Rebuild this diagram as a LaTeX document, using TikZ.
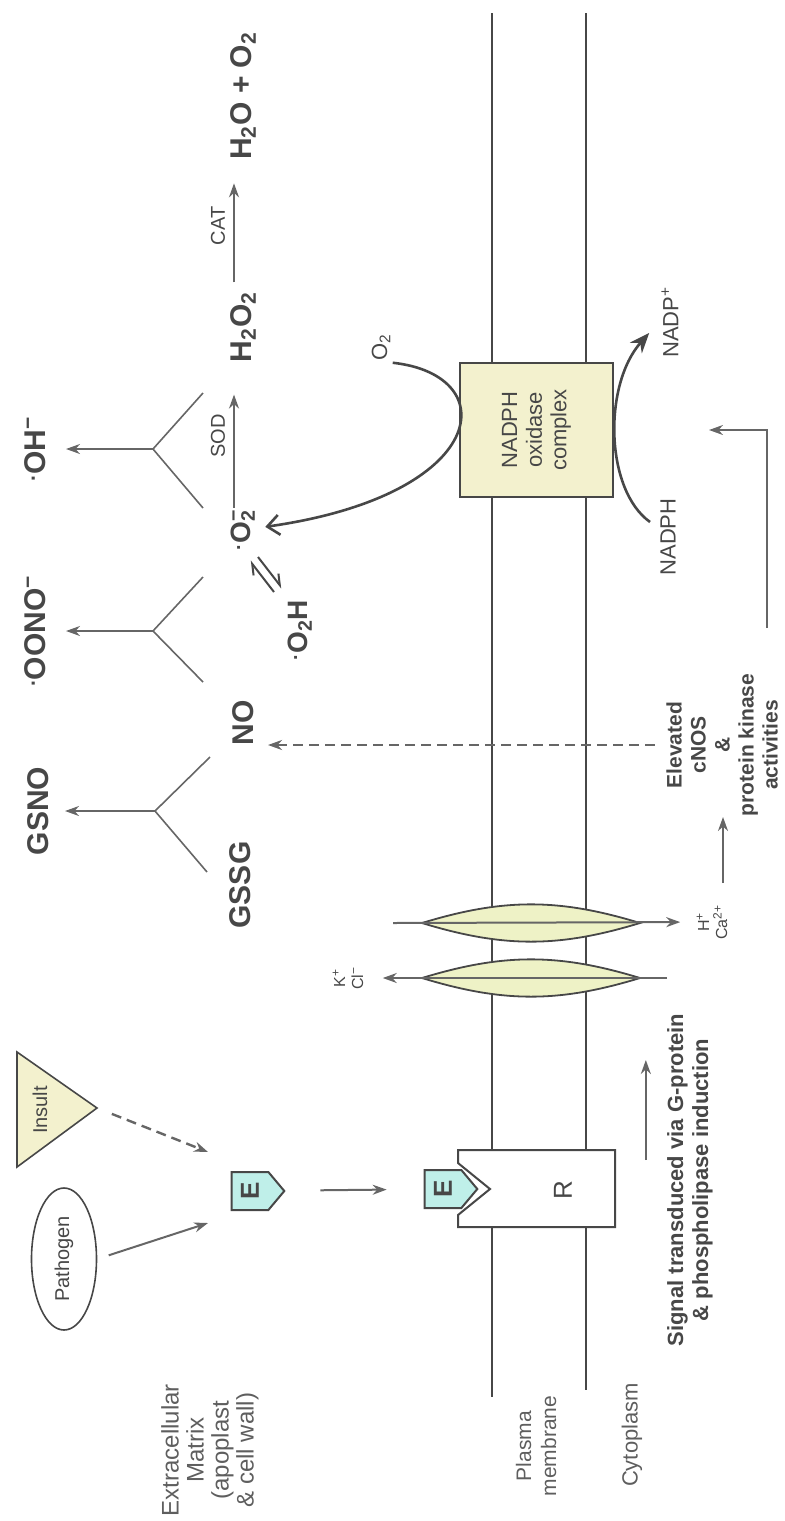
\documentclass[tikz,border=0pt]{standalone}
\usepackage{fontspec}
\setmainfont{Liberation Sans}
\usepackage{xcolor}
\definecolor{ink}{HTML}{474747}
\definecolor{arrowgray}{HTML}{666666}
\definecolor{regiongray}{HTML}{5E5E5E}
\definecolor{complexfill}{HTML}{F3F1CE}
\definecolor{channelfill}{HTML}{EEF2C6}
\definecolor{ligandfill}{HTML}{BFEFE9}
\usetikzlibrary{arrows.meta, positioning, shapes.geometric, shapes.symbols, calc}
\newcommand{\rdot}{\textsuperscript{.}}
\newcommand{\supsub}[2]{\rlap{\textsuperscript{#1}}\textsubscript{#2}}

\begin{document}
\begin{tikzpicture}[
  x=0.5pt, y=-0.5pt,
  every node/.style={inner sep=1pt, text=ink},
  region/.style={rotate=90, align=center, text=regiongray,
                 font=\fontsize{12}{12.5}\selectfont},
  chem/.style={rotate=90, font=\fontsize{15}{18}\selectfont\bfseries},
  radical/.style={rotate=90, font=\fontsize{14}{16}\selectfont\bfseries},
  species/.style={rotate=90, font=\fontsize{11}{13}\selectfont},
  enzyme/.style={rotate=90, inner sep=4pt, font=\fontsize{10}{11}\selectfont},
  ion/.style={rotate=90, align=center, font=\fontsize{8}{9}\selectfont},
  note/.style={rotate=90, align=center, font=\fontsize{11}{12.5}\selectfont\bfseries},
  ligand/.style={signal, signal to=south, signal pointer angle=100, rotate=90,
                 draw=ink, line width=1pt, fill=ligandfill, minimum width=19pt,
                 minimum height=22pt, inner sep=0pt,
                 font=\fontsize{13}{13}\selectfont\bfseries},
  complex/.style={rotate=90, draw=ink, line width=1pt, fill=complexfill,
                  align=center, font=\fontsize{11}{12.3}\selectfont},
  channel/.style={draw=ink, line width=0.9pt, fill=channelfill},
  membrane/.style={draw=ink, line width=0.8pt},
  arr/.style={-{Stealth[length=7pt, width=5pt]}, draw=arrowgray, line width=1pt},
  dasharr/.style={arr, dash pattern=on 5pt off 3pt, line width=1.2pt},
  branch/.style={draw=arrowgray, line width=0.8pt},
  redox/.style={-{Stealth[length=10pt, width=8pt]}, draw=ink, line width=1.3pt},
  oxarr/.style={-{Straight Barb[length=6pt, width=10pt]}, draw=ink, line width=1.3pt},
  harp/.style={-{Straight Barb[left, length=5pt, width=6pt]}, draw=ink, line width=1pt}
]
\useasboundingbox (0,0) rectangle (784,1521);

% plasma membrane
\draw[membrane] (492,13) -- (492,1397);
\draw[membrane] (586,13) -- (586,1390);

% compartments
\node[region] (ecm) at (210,1450) {Extracellular\\Matrix\\(apoplast\\\& cell wall)};
\node[region, font=\fontsize{10.5}{12.5}\selectfont] (pm) at (536,1446) {Plasma\\membrane};
\node[region, font=\fontsize{11}{12.5}\selectfont] (cyto) at (632,1435) {Cytoplasm};

% elicitors
\node[ellipse, rotate=90, draw=ink, line width=0.8pt, minimum width=71pt,
      minimum height=32.5pt, inner sep=0pt, font=\fontsize{10}{12}\selectfont]
  (pathogen) at (64,1259) {Pathogen};
\draw[draw=ink, line width=0.8pt, fill=complexfill]
  (17,1052) -- (97,1108) -- (17,1167) -- cycle;
\coordinate (insulttip) at (97,1108);
\node[rotate=90, font=\fontsize{10}{12}\selectfont] (insult) at (40,1110) {Insult};
\node[ligand] (efree) at (250,1191) {E};

% receptor with bound elicitor
\draw[draw=ink, line width=1pt, fill=white] (458,1150) -- (615,1150) -- (615,1227)
  -- (458,1227) -- (458,1215) -- (490,1189) -- (458,1163) -- cycle;
\node[ligand] (ebound) at (443,1189) {E};
\node[rotate=90, font=\fontsize{13}{13}\selectfont] (rec) at (563,1190) {R};

\coordinate (pathhit) at (208,1223);
\coordinate (insulthit) at (208,1152);
\draw[arr, shorten <=6pt] (pathogen.south) -- (pathhit);
\draw[dasharr, shorten <=8pt] (insulttip) -- (insulthit);
\draw[arr, shorten <=17.5pt, shorten >=18.5pt] (efree) -- (ebound);

\node[note] (signal) at (690,1180)
  {Signal transduced via G-protein\\\& phospholipase induction};
\draw[arr] (signal.north) ++(-19,-20) -- ++(0,-100);

% ion channels
\draw[channel] (422,923) to[bend left=17] (640,923) to[bend left=17] (422,923) -- cycle;
\draw[channel] (422,978) to[bend left=17] (640,978) to[bend left=17] (422,978) -- cycle;
\node[ion] (hca) at (712,922) {H\textsuperscript{+}\\Ca\textsuperscript{2+}};
\node[ion] (kcl) at (348,978) {K\textsuperscript{+}\\Cl\textsuperscript{−}};
\coordinate (influx) at (393,923);
\coordinate (efflux) at (667,978);
\draw[arr, shorten >=7pt] (influx) -- (hca);
\draw[arr, shorten >=8.5pt] (efflux) -- (kcl);

\node[note, font=\fontsize{10.5}{12}\selectfont\bfseries] (elev) at (722,745)
  {Elevated\\cNOS\\\&\\protein kinase\\activities};
\draw[arr] (hca) ++(11,-39) -- ++(0,-66);

% NADPH oxidase
\node[complex, minimum width=67pt, minimum height=76.5pt] (nox) at (536.5,430)
  {NADPH\\oxidase\\complex};
\node[species] (otwo) at (381,347) {O\textsubscript{2}};
\node[species] (nadph) at (668,537) {NADPH};
\node[species] (nadpp) at (670,322) {NADP\textsuperscript{+}};
\coordinate (kinase) at (767,628);
\draw[arr, shorten >=47.5pt] (kinase) |- (nox);

% reactive species
\node[radical] (o2m) at (243,530) {\rdot O\supsub{−}{2}};
\node[radical] (o2h) at (300,630) {\rdot O\textsubscript{2}H};
\node[chem] (hoo) at (243,327) {H\textsubscript{2}O\textsubscript{2}};
\node[chem] (prod) at (243,96) {H\textsubscript{2}O + O\textsubscript{2}};
\node[chem] (no) at (243,723) {NO};
\node[chem] (gssg) at (240,885) {GSSG};
\node[chem] (oh) at (35,449) {\rdot OH\textsuperscript{−}};
\node[chem] (oono) at (35,631) {\rdot OONO\textsuperscript{−}};
\node[chem] (gsno) at (38,811) {GSNO};

\draw[oxarr, shorten >=4pt] (otwo.south west) .. controls (505,375) and (490,495) .. (o2m);
\draw[redox] ([shift={(-8,-15)}]nadph.north) .. controls (605,490) and (603,385)
  .. ([shift={(-10,11)}]nadpp.north);

\draw[arr, shorten >=15pt] ([xshift=-4.5pt]o2m.east) --
  node[enzyme, anchor=south] {SOD} ([xshift=-4.5pt]hoo.west);
\draw[arr, shorten <=3.5pt, shorten >=10.5pt] ([xshift=-4.5pt]hoo.east) --
  node[enzyme, anchor=south] {CAT} ([xshift=-4.5pt]prod.west);

% superoxide / perhydroxyl equilibrium
\coordinate (eqa) at (274,592);
\coordinate (eqb) at (250,561);
\coordinate (eqc) at (258,557);
\coordinate (eqd) at (282,588);
\draw[harp] (eqa) -- (eqb);
\draw[harp] (eqc) -- (eqd);

\draw[dasharr, shorten >=6pt] (elev.north) ++(-9,0) -- (no.south |- elev.north);

% combination reactions
\coordinate (joh) at (153,449);
\coordinate (joono) at (153,631);
\coordinate (jgsno) at (155,811);
\draw[branch] (joh) -- +(50,-56) (joh) -- +(50,59);
\draw[arr, shorten >=9pt] (joh) -- (oh);
\draw[branch] (joono) -- +(50,-54) (joono) -- +(50,51);
\draw[arr, shorten >=9pt] (joono) -- (oono);
\draw[branch] (jgsno) -- +(55,-54) (jgsno) -- +(52,61);
\draw[arr, shorten >=7pt] (jgsno) -- (gsno);

\end{tikzpicture}
\end{document}
